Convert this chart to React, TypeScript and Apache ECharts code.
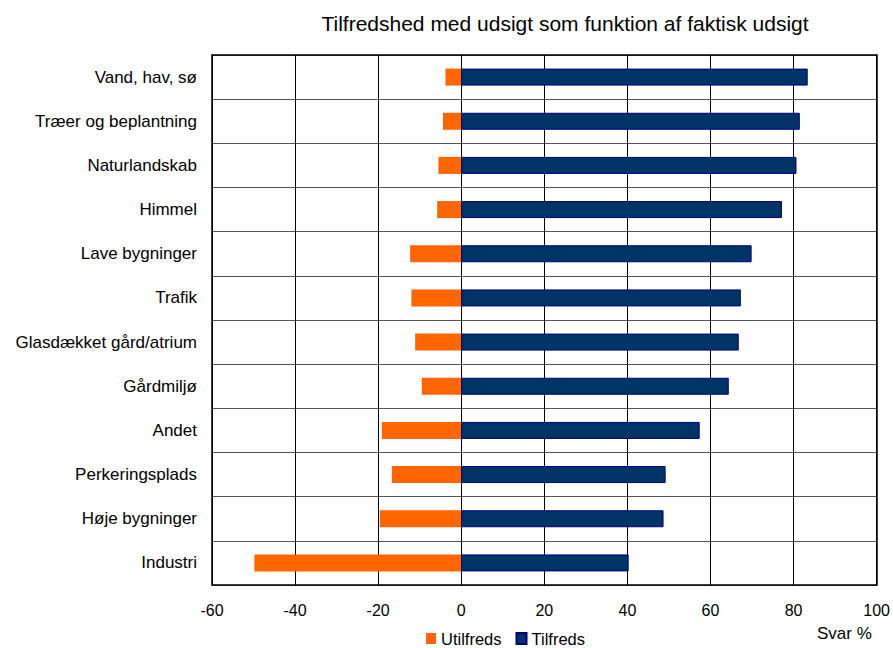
import React, { useEffect, useRef } from "react";
import * as echarts from "echarts";

const categories = [
  "Vand, hav, sø",
  "Træer og beplantning",
  "Naturlandskab",
  "Himmel",
  "Lave bygninger",
  "Trafik",
  "Glasdækket gård/atrium",
  "Gårdmiljø",
  "Andet",
  "Perkeringsplads",
  "Høje bygninger",
  "Industri",
];
const utilfreds = [-3.8, -4.4, -5.5, -5.8, -12.3, -12.0, -11.1, -9.5, -19.1, -16.7, -19.6, -49.8];
const tilfreds = [83.4, 81.5, 80.7, 77.2, 69.9, 67.3, 66.8, 64.4, 57.4, 49.2, 48.7, 40.3];

const FONT = "'Liberation Sans', Arial, sans-serif";

export default function App() {
  const ref = useRef<HTMLDivElement>(null);
  useEffect(() => {
    if (!ref.current) return;
    const chart = echarts.init(ref.current, undefined, { renderer: "svg" });
    chart.setOption({
      animation: false,
      backgroundColor: "#ffffff",
      textStyle: { fontFamily: FONT },
      title: {
        text: "Tilfredshed med udsigt som funktion af faktisk udsigt",
        left: 560,
        textAlign: "center",
        top: 8,
        textStyle: { fontFamily: FONT, fontSize: 21, fontWeight: "normal", color: "#000" },
      },
      legend: {
        data: ["Utilfreds", "Tilfreds"],
        left: 426,
        top: 630,
        itemWidth: 10,
        itemHeight: 11,
        itemGap: 14,
        icon: "rect",
        textStyle: { fontFamily: FONT, fontSize: 16.5, lineHeight: 17, color: "#000", padding: [0, 0, 0, 0] },
        padding: 0,
      },
      grid: { left: 212, top: 55, right: 16, bottom: 63, containLabel: false, show: false },
      xAxis: {
        type: "value",
        min: -60,
        max: 100,
        interval: 20,
        axisLine: { show: false },
        axisTick: { show: false },
        axisLabel: { fontFamily: FONT, fontSize: 16, color: "#000", margin: 17 },
        splitLine: { show: true, lineStyle: { color: "#000", width: 1 } },
      },
      yAxis: {
        type: "category",
        data: categories,
        inverse: true,
        axisLine: { show: true, lineStyle: { color: "#000", width: 1 } },
        axisTick: { show: false },
        axisLabel: { fontFamily: FONT, fontSize: 17, color: "#000", margin: 15 },
        splitLine: { show: true, lineStyle: { color: "#555", width: 1 } },
      },
      series: [
        {
          name: "Utilfreds",
          type: "bar",
          stack: "total",
          data: utilfreds,
          barWidth: 17,
          itemStyle: { color: "#ff6600" },
        },
        {
          name: "Tilfreds",
          type: "bar",
          stack: "total",
          data: tilfreds,
          barWidth: 17,
          itemStyle: { color: "#003366", borderColor: "#000080", borderWidth: 1 },
        },
      ],
      graphic: [
        {
          type: "rect",
          shape: { x: 212, y: 55, width: 665, height: 530 },
          style: { fill: "none", stroke: "#000", lineWidth: 1.5 },
          z: 10,
        },
        {
          type: "text",
          x: 817,
          y: 625,
          style: { text: "Svar %", fontFamily: FONT, fontSize: 17, fill: "#000" },
        },
      ],
    });
    return () => chart.dispose();
  }, []);
  return <div ref={ref} style={{ width: 893, height: 648, position: "absolute", left: 0, top: 0 }} />;
}
